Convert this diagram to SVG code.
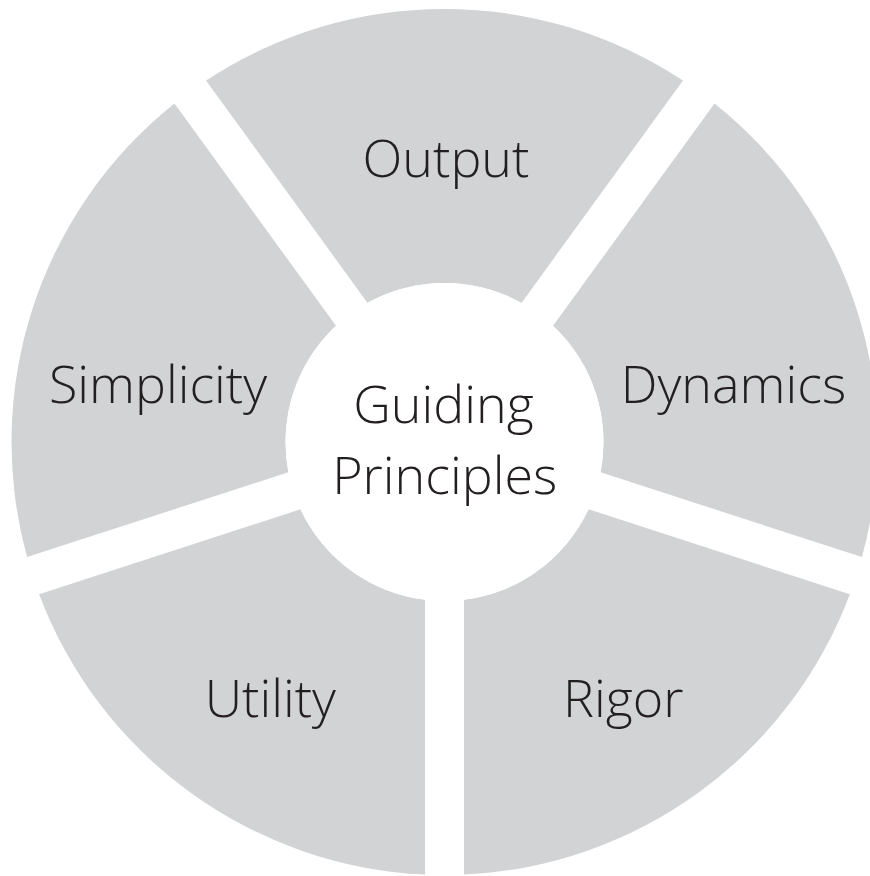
<svg xmlns="http://www.w3.org/2000/svg" width="870" height="876" viewBox="0 0 870 876">
<style>
.sector{fill:#d1d3d4;stroke:none}
.hub{fill:#ffffff;stroke:none}
.label{font-family:"Open Sans","Noto Sans","Liberation Sans",sans-serif;font-weight:300;font-size:52px;fill:#231f20;text-anchor:middle}
</style>
<rect width="870" height="876" fill="#ffffff"/>
<g id="connectors"/>
<g id="node-output">
<path class="sector" d="M367.53 302.88 L206.03 80.59 A433 433 0 0 1 682.97 80.59 L521.47 302.88 A159 159 0 0 0 367.53 302.88 Z"/>
<text class="label" x="446" y="177">Output</text>
</g>
<g id="node-dynamics">
<path class="sector" d="M553.03 325.80 L714.53 103.51 A433 433 0 0 1 861.92 557.12 L600.61 472.21 A159 159 0 0 0 553.03 325.80 Z"/>
<text class="label" x="733.5" y="402.5">Dynamics</text>
</g>
<g id="node-rigor">
<path class="sector" d="M588.55 509.31 L849.86 594.22 A433 433 0 0 1 464 874.56 L464 599.80 A159 159 0 0 0 588.55 509.31 Z"/>
<text class="label" x="623.3" y="716.7">Rigor</text>
</g>
<g id="node-utility">
<path class="sector" d="M425 599.80 L425 874.56 A433 433 0 0 1 39.14 594.22 L300.45 509.31 A159 159 0 0 0 425 599.80 Z"/>
<text class="label" x="270.3" y="716.7">Utility</text>
</g>
<g id="node-simplicity">
<path class="sector" d="M288.39 472.21 L27.08 557.12 A433 433 0 0 1 174.47 103.51 L335.97 325.80 A159 159 0 0 0 288.39 472.21 Z"/>
<text class="label" x="158" y="403">Simplicity</text>
</g>
<g id="node-center">
<circle class="hub" cx="444.5" cy="442" r="159"/>
<text class="label" x="443.5" y="423.3">Guiding</text>
<text class="label" x="444.7" y="494">Principles</text>
</g>
</svg>
